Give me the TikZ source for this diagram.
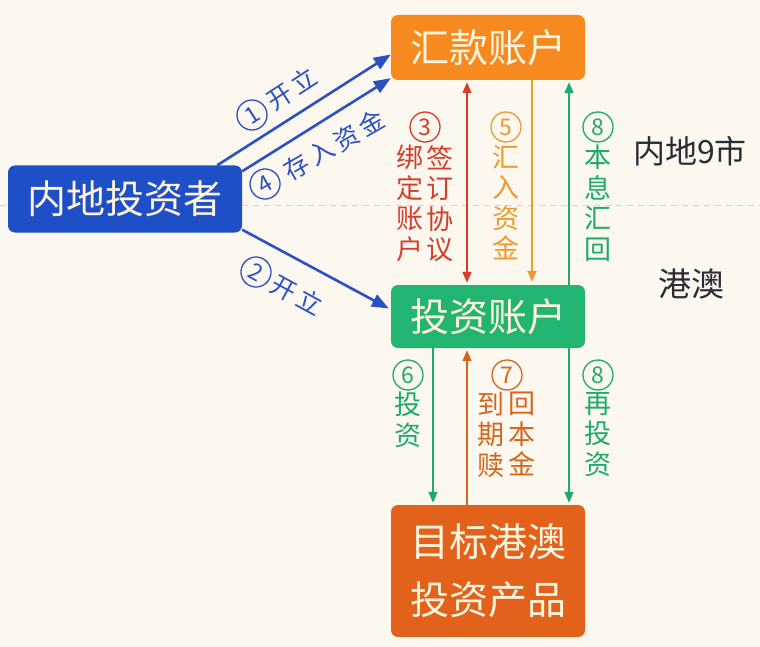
\documentclass[tikz,border=0pt]{standalone}
\usepackage{fontspec}
\setmainfont{Noto Sans CJK SC}
\usetikzlibrary{arrows.meta}
\definecolor{bg}{HTML}{FDF8EF}
\definecolor{invblue}{HTML}{1F4FC6}
\definecolor{arrblue}{HTML}{2A50C2}
\definecolor{hkorange}{HTML}{F68A1E}
\definecolor{acgreen}{HTML}{22B471}
\definecolor{prodorange}{HTML}{E2621B}
\definecolor{boxtext}{HTML}{FFF4DE}
\definecolor{redc}{HTML}{D63E2A}
\definecolor{orangec}{HTML}{EE9A2E}
\definecolor{greenc}{HTML}{1DAA6C}
\definecolor{brownc}{HTML}{D4661F}
\definecolor{darktext}{HTML}{2B2B35}
\definecolor{dashc}{HTML}{D9D3CC}
\newcommand\gp{\hspace{4pt}}
\begin{document}
\begin{tikzpicture}[x=1pt,y=-1pt,
  box/.style={rounded corners=7pt, text=boxtext, inner sep=0pt, align=center,
    font=\fontsize{39}{58}\selectfont},
  bluearr/.style={draw=arrblue, line width=2.6pt, -{Triangle[length=17pt,width=13pt]}},
  vline/.style={line width=1.6pt},
  bluelab/.style={text=arrblue, font=\fontsize{25}{28}\selectfont, inner sep=0pt},
  vlab/.style={font=\fontsize{27}{30.5}\selectfont, inner sep=0pt, align=center, anchor=north},
  cnode/.style={circle, draw, line width=1.3pt, minimum size=30pt, inner sep=0pt,
    font=\fontsize{23}{23}\selectfont},
  sidelab/.style={text=darktext, inner sep=0pt}
]
\fill[bg] (0,0) rectangle (760,647);
\useasboundingbox (0,0) rectangle (760,647);
\draw[dashc, line width=1pt, dash pattern=on 6pt off 5pt] (0,206) -- (760,206);

% boxes
\node[box, fill=hkorange, minimum width=194pt, minimum height=65pt] (hk) at (488,47.5) {汇款账户};
\node[box, fill=invblue, minimum width=234pt, minimum height=67pt] (inv) at (125,199) {内地投资者};
\node[box, fill=acgreen, minimum width=194pt, minimum height=63pt] (tz) at (488,316.5) {投资账户};
\node[box, fill=prodorange, minimum width=194pt, minimum height=132pt] (prod) at (488,571) {目标港澳\\投资产品};

% side labels
\node[sidelab, font=\fontsize{32}{36}\selectfont] (nd) at (690,151) {内地9市};
\node[sidelab, font=\fontsize{33}{36}\selectfont] (ga) at (691,284) {港澳};

% blue arrows
\draw[bluearr] ([xshift=-25pt]inv.north east) -- ([yshift=-7pt]hk.west);
\draw[bluearr] ([yshift=-6pt]inv.north east) -- ([yshift=2pt]hk.south west);
\draw[bluearr] ([yshift=3pt]inv.south east) -- ([yshift=8pt,xshift=-2pt]tz.west);
\node[cnode, arrblue, rotate=33] (c1) at (252,115) {1};
\node[bluelab, rotate=33] (l1) at (292,89) {开\gp 立};
\node[cnode, arrblue, rotate=30] (c4) at (265,184) {4};
\node[bluelab, rotate=30] (l4) at (334,145) {存\gp 入\gp 资\gp 金};
\node[cnode, arrblue, rotate=-28.5] (c2) at (256,272) {2};
\node[bluelab, rotate=-28.5] (l2) at (297,295) {开\gp 立};

% column coordinates
\coordinate (cR) at (467,0);
\coordinate (cO) at (532,0);
\coordinate (cG) at (569,0);
\coordinate (cL) at (433,0);

% upper vertical arrows
\draw[vline, redc, {Triangle[length=11pt,width=9pt]}-{Triangle[length=11pt,width=9pt]}, shorten <=2pt, shorten >=2pt] (hk.south -| cR) -- (tz.north -| cR);
\draw[vline, orangec, -{Triangle[length=11pt,width=9pt]}, shorten >=3pt] (hk.south -| cO) -- (tz.north -| cO);
\draw[vline, greenc, -{Triangle[length=11pt,width=9pt]}, shorten >=2pt] (tz.north -| cG) -- (hk.south -| cG);

% lower vertical arrows
\draw[vline, greenc, -{Triangle[length=11pt,width=9pt]}, shorten >=2pt] (tz.south -| cL) -- (prod.north -| cL);
\draw[vline, brownc, -{Triangle[length=11pt,width=9pt]}, shorten >=2pt] (prod.north -| cR) -- (tz.south -| cR);
\draw[vline, greenc, -{Triangle[length=11pt,width=9pt]}, shorten >=2pt] (tz.south -| cG) -- (prod.north -| cG);

% upper labels
\node[cnode, redc] (n3) at (425,127) {3};
\node[vlab, text=redc] (t3a) at (410,145) {绑\\定\\账\\户};
\node[vlab, text=redc] (t3b) at (440,145) {签\\订\\协\\议};
\node[cnode, orangec] (n5) at (506,127) {5};
\node[vlab, text=orangec] (t5) at (506,145) {汇\\入\\资\\金};
\node[cnode, greenc] (n8a) at (598,127) {8};
\node[vlab, text=greenc] (t8a) at (598,145) {本\\息\\汇\\回};

% lower labels
\node[cnode, greenc] (n6) at (408,375) {6};
\node[vlab, text=greenc] (t6) at (408,392) {投\\资};
\node[cnode, brownc] (n7) at (507,375) {7};
\node[vlab, text=brownc] (t7a) at (491,392) {到\\期\\赎};
\node[vlab, text=brownc] (t7b) at (522,392) {回\\本\\金};
\node[cnode, greenc] (n8b) at (598,375) {8};
\node[vlab, text=greenc] (t8b) at (598,392) {再\\投\\资};
\end{tikzpicture}
\end{document}
